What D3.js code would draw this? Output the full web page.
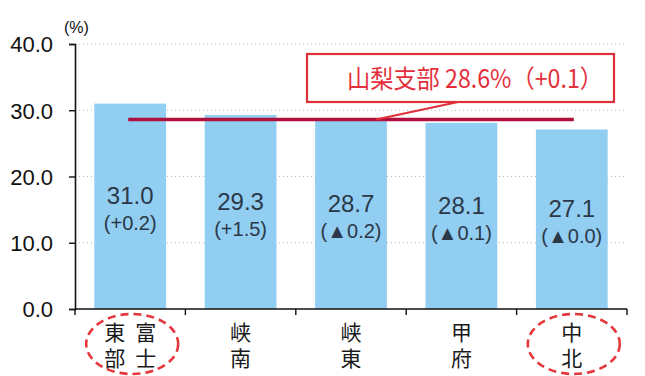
<!DOCTYPE html>
<html>
<head>
<meta charset="utf-8">
<script src="https://cdn.jsdelivr.net/npm/d3@7"></script>
<style>
  html, body { margin: 0; padding: 0; background: #fff; }
  svg { display: block; }
  text { font-family: "Liberation Sans", Arial, "Noto Sans CJK JP", sans-serif; }
  .jp { font-family: "Noto Sans CJK JP", sans-serif; }
  .vert { writing-mode: vertical-rl; }
</style>
</head>
<body>
<script>
// Branch-level rates (%) with change from previous year
const categories = ["富士東部", "峡南", "峡東", "甲府", "中北"];
// vertical writing: columns listed right-to-left
const categoryColumns = [["富士", "東部"], ["峡南"], ["峡東"], ["甲府"], ["中北"]];
const values = [31.0, 29.3, 28.7, 28.1, 27.1];
const changes = ["+0.2", "+1.5", "▲0.2", "▲0.1", "▲0.0"];
const branchName = "山梨支部";
const branchAverage = 28.6;
const branchChange = "+0.1";
const yTicks = [0, 10, 20, 30, 40];
const highlighted = ["富士東部", "中北"];

const W = 645, H = 376;
const margin = { left: 75, right: 18, top: 44, bottom: 67 };

const svg = d3.select("body").append("svg")
  .attr("width", W).attr("height", H);

const x = d3.scaleBand()
  .domain(categories)
  .range([margin.left, W - margin.right])
  .paddingInner(0.35).paddingOuter(0.175);

const xOuter = d3.scaleBand()
  .domain(categories)
  .range([margin.left, W - margin.right]);

const y = d3.scaleLinear()
  .domain([0, 40])
  .range([H - margin.bottom, margin.top]);

// dotted gridlines
svg.append("g")
  .selectAll("line")
  .data(yTicks.filter(d => d > 0))
  .join("line")
  .attr("x1", margin.left).attr("x2", W - margin.right)
  .attr("y1", d => y(d)).attr("y2", d => y(d))
  .attr("stroke", "#8a8a8a")
  .attr("stroke-width", 1)
  .attr("stroke-dasharray", "1,3")
  .attr("opacity", 0.6);

// bars
svg.append("g")
  .selectAll("rect")
  .data(values)
  .join("rect")
  .attr("x", (d, i) => x(categories[i]))
  .attr("width", x.bandwidth())
  .attr("y", d => y(d))
  .attr("height", d => y(0) - y(d))
  .attr("fill", "#92cdf2");

// value labels inside bars
const labels = svg.append("g").selectAll("g")
  .data(values)
  .join("g")
  .attr("transform", (d, i) => {
    const cx = x(categories[i]) + x.bandwidth() / 2;
    const cy = (y(d) + y(0)) / 2 + 3;
    return `translate(${cx},${cy})`;
  });

labels.append("text")
  .attr("text-anchor", "middle")
  .attr("y", -5)
  .attr("font-size", 24)
  .attr("fill", "#2b3848")
  .text(d => d.toFixed(1));

labels.append("text")
  .attr("text-anchor", "middle")
  .attr("y", 21)
  .attr("font-size", 20)
  .attr("fill", "#2b3848")
  .text((d, i) => `(${changes[i]})`);

// y axis
const yAxis = d3.axisLeft(y)
  .tickValues(yTicks)
  .tickSize(6)
  .tickFormat(d => d.toFixed(1));

const gy = svg.append("g")
  .attr("transform", `translate(${margin.left},0)`)
  .call(yAxis);
gy.select(".domain").attr("stroke", "#111").attr("stroke-width", 1.6);
gy.selectAll(".tick line").attr("stroke", "#111").attr("stroke-width", 1.4);
gy.selectAll(".tick text")
  .attr("font-size", 22)
  .attr("fill", "#111")
  .attr("x", -22)
  .attr("dy", "0.36em");

svg.append("text")
  .attr("x", margin.left - 11)
  .attr("y", 33)
  .attr("font-size", 16)
  .attr("fill", "#111")
  .text("(%)");

// x axis: ticks between categories
const gx = svg.append("g")
  .attr("transform", `translate(0,${y(0)})`);
gx.append("line")
  .attr("x1", margin.left).attr("x2", W - margin.right)
  .attr("stroke", "#111").attr("stroke-width", 1.6);
const boundaries = categories.map(c => xOuter(c)).concat([W - margin.right]);
gx.selectAll(".sep")
  .data(boundaries)
  .join("line")
  .attr("class", "sep")
  .attr("x1", d => d).attr("x2", d => d)
  .attr("y1", 0).attr("y2", 6)
  .attr("stroke", "#111").attr("stroke-width", 1.4);

// vertical category labels (one text per column, written top-to-bottom)
const catG = svg.append("g").selectAll("g")
  .data(categoryColumns)
  .join("g")
  .attr("transform", (d, i) => `translate(${xOuter(categories[i]) + xOuter.bandwidth() / 2},0)`);

const colGap = 31;
catG.each(function(cols) {
  const g = d3.select(this);
  cols.forEach((col, ci) => {
    const cx = (cols.length - 1) * colGap / 2 - ci * colGap;
    g.append("text")
      .attr("class", "jp vert")
      .attr("x", cx)
      .attr("y", 322)
      .attr("font-size", 21)
      .attr("letter-spacing", 5)
      .attr("fill", "#1a1a1a")
      .text(col);
  });
});

// highlight rings
svg.append("g")
  .selectAll("ellipse")
  .data(highlighted)
  .join("ellipse")
  .attr("cx", d => xOuter(d) + xOuter.bandwidth() / 2 + 2)
  .attr("cy", 344)
  .attr("rx", 46)
  .attr("ry", 30)
  .attr("fill", "none")
  .attr("stroke", "#e4383c")
  .attr("stroke-width", 2.6)
  .attr("stroke-dasharray", "8,5");

// branch average line
const avgY = y(branchAverage);
const x0 = x(categories[0]) + x.bandwidth() / 2;
const x1 = x(categories[categories.length - 1]) + x.bandwidth() / 2;
svg.append("line")
  .attr("x1", x0 - 2).attr("x2", x1 + 2)
  .attr("y1", avgY).attr("y2", avgY)
  .attr("stroke", "#b0103c")
  .attr("stroke-width", 3.4);

// callout
const box = { x: 307, y: 54, w: 307, h: 48 };
svg.append("line")
  .attr("x1", 458).attr("y1", box.y + box.h)
  .attr("x2", 376).attr("y2", avgY)
  .attr("stroke", "#e0303a")
  .attr("stroke-width", 2.2);
svg.append("rect")
  .attr("x", box.x).attr("y", box.y)
  .attr("width", box.w).attr("height", box.h)
  .attr("fill", "#fff")
  .attr("stroke", "#e0303a")
  .attr("stroke-width", 2.2);
svg.append("text")
  .attr("class", "jp")
  .attr("x", 347)
  .attr("y", box.y + 34)
  .attr("font-size", 25)
  .attr("fill", "#e4303c")
  .attr("textLength", 256)
  .attr("lengthAdjust", "spacingAndGlyphs")
  .text(`${branchName} ${branchAverage.toFixed(1)}%（${branchChange}）`);
</script>
</body>
</html>
